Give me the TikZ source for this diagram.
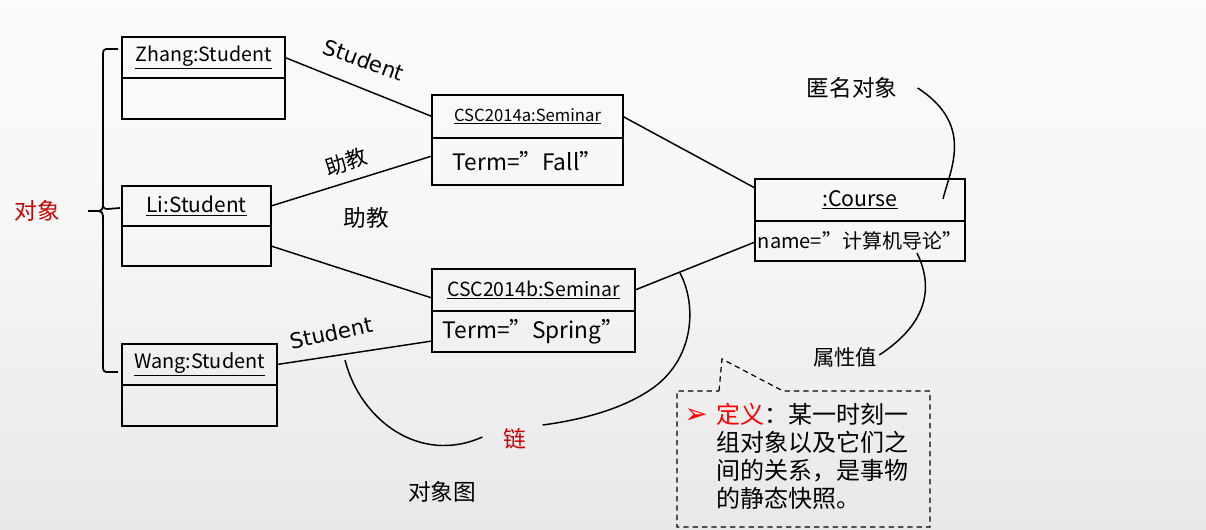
\documentclass[tikz,border=0pt]{standalone}
\usepackage{fontspec}
\setmainfont{Noto Sans CJK SC}
\newfontfamily\dejavu{DejaVu Sans}
\usetikzlibrary{calc}
\definecolor{darkred}{RGB}{204,0,0}
\definecolor{bgbot}{RGB}{219,219,219}
\definecolor{bgm1}{RGB}{232,232,232}
\definecolor{bgm2}{RGB}{247,247,247}
\newcommand\pxu{0.75pt}
\newcommand\fsz[1]{\fontsize{#1}{#1}\selectfont}
\pgfdeclareverticalshading{bgshade}{100bp}{color(0bp)=(bgbot); color(25bp)=(bgm1); color(55bp)=(bgm2); color(100bp)=(white)}
\begin{document}
\begin{tikzpicture}[x=0.75pt,y=-0.75pt,
  objbox/.style={draw, line width=1.5pt, inner sep=0pt, outer sep=0pt, anchor=north west},
  link/.style={line width=1.1pt},
  pointer/.style={line width=1.1pt},
  lbl/.style={inner sep=0pt},
]
\useasboundingbox (0,0) rectangle (1206,529);
\shade[shading=bgshade] (0,0) rectangle (1206,529);

% Student objects
\node[objbox, minimum width=163*\pxu, minimum height=41*\pxu] (zh) at (122,37) {\fsz{14.7pt}\underline{Zhang:Student}};
\node[objbox, minimum width=163*\pxu, minimum height=41*\pxu] (zb) at (zh.south west) {};
\node[objbox, minimum width=149*\pxu, minimum height=40*\pxu] (lh) at (122,186) {\fsz{15.6pt}\underline{Li:Student}};
\node[objbox, minimum width=149*\pxu, minimum height=40*\pxu] (lb) at (lh.south west) {};
\node[objbox, minimum width=155*\pxu, minimum height=41*\pxu] (wh) at (122,344) {\fsz{14.9pt}\underline{Wang:Student}};
\node[objbox, minimum width=155*\pxu, minimum height=41*\pxu] (wb) at (wh.south west) {};

% Seminars
\node[objbox, minimum width=191*\pxu, minimum height=43*\pxu] (ah) at (432,95) {\fsz{12.5pt}\underline{CSC2014a:Seminar}};
\node[objbox, minimum width=191*\pxu, minimum height=47*\pxu] (ab) at (ah.south west) {\fsz{17pt}Term=”Fall”};
\node[objbox, minimum width=203*\pxu, minimum height=42*\pxu] (bh) at (432,269) {\fsz{14.6pt}\underline{CSC2014b:Seminar}};
\node[objbox, minimum width=203*\pxu, minimum height=41*\pxu] (bb) at (bh.south west) {\fsz{17pt}Term=”Spring”};

% Course
\node[objbox, minimum width=210*\pxu, minimum height=42*\pxu] (ch) at (755,179) {\fsz{16pt}\underline{:Course}};
\node[objbox, minimum width=210*\pxu, minimum height=40*\pxu] (cb) at (ch.south west) {\fsz{15pt}name=”计算机导论”};

% links
\draw[link] (zh.east) -- (ah.west);
\draw[link] (lh.east) -- ([yshift=5.5*\pxu]ab.west);
\draw[link] (lb.east) -- ([yshift=-8*\pxu]bh.west);
\draw[link] (wh.east) -- ([yshift=-9.5*\pxu]bb.west);
\draw[link] (ah.east) -- ([yshift=12*\pxu]ch.west);
\draw[link] (bh.east) -- ([yshift=-1*\pxu]cb.west);

% link labels
\node[lbl, rotate=-20] (l1) at (364,60) {\dejavu\fsz{16pt}Student};
\node[lbl, rotate=18] (l2) at (346,162) {\fsz{16pt}助教};
\node[lbl] (l3) at (366,218) {\fsz{17pt}助教};
\node[lbl, rotate=12] (l4) at (331,333) {\dejavu\fsz{16pt}Student};

% 对象 brace
\node[lbl, text=darkred] (obj) at (37,211) {\fsz{17pt}对象};
\coordinate (bt) at (118,49);
\coordinate (bb2) at (118,372);
\coordinate (bm) at (120,208);
\coordinate (bl) at (88,211);
\draw[line width=1.3pt] (bt) -- (106,49) to[out=180,in=90] (103,53) -- (103,206) to[out=-90,in=0] (99,211) -- (bl);
\draw[line width=1.3pt] (103,216) -- (103,368) to[out=-90,in=180] (106,372) -- (bb2);
\draw[line width=1.3pt] (103,206) to[out=-90,in=180] (107,209) -- (bm);
\draw[line width=1.3pt] (103,216) to[out=90,in=0] (99,211);

% anonymous object pointer
\node[lbl] (anon) at (852,88) {\fsz{17pt}匿名对象};
\draw[pointer] ([xshift=20*\pxu]anon.east) .. controls (975,125) and (950,170) .. (943,199);

% attribute value pointer
\node[lbl] (attr) at (845,357) {\fsz{16pt}属性值};
\draw[pointer] ([xshift=2*\pxu,yshift=2*\pxu]attr.east) .. controls (925,325) and (935,290) .. (917,253);

% link curves
\node[lbl, text=darkred] (lian) at (515,439) {\fsz{17pt}链};
\draw[pointer] (345,360) .. controls (360,420) and (420,465) .. ([xshift=-21*\pxu,yshift=2*\pxu]lian.west);
\draw[pointer] (680,273) .. controls (697,305) and (695,360) .. (650,390) .. controls (620,410) and (580,420) .. ([xshift=16*\pxu,yshift=14*\pxu]lian.east);

% title
\node[lbl] (title) at (442,492) {\fsz{17pt}对象图};

% callout
\draw[dashed, line width=0.9pt, dash pattern=on 4pt off 3pt] (719,391) -- (722,359) -- (783,391) -- (930,391) -- (930,527) -- (677,527) -- (677,391) -- cycle;
\node[lbl, text=red] (bullet) at (696,416) {\dejavu\fsz{21pt}➢};
\node[lbl, anchor=north west, align=left, font={\fontsize{18pt}{21pt}\selectfont}] (def) at (716,403) {{\color{red}定义}：某一时刻一\\组对象以及它们之\\间的关系，是事物\\的静态快照。};
\end{tikzpicture}
\end{document}
